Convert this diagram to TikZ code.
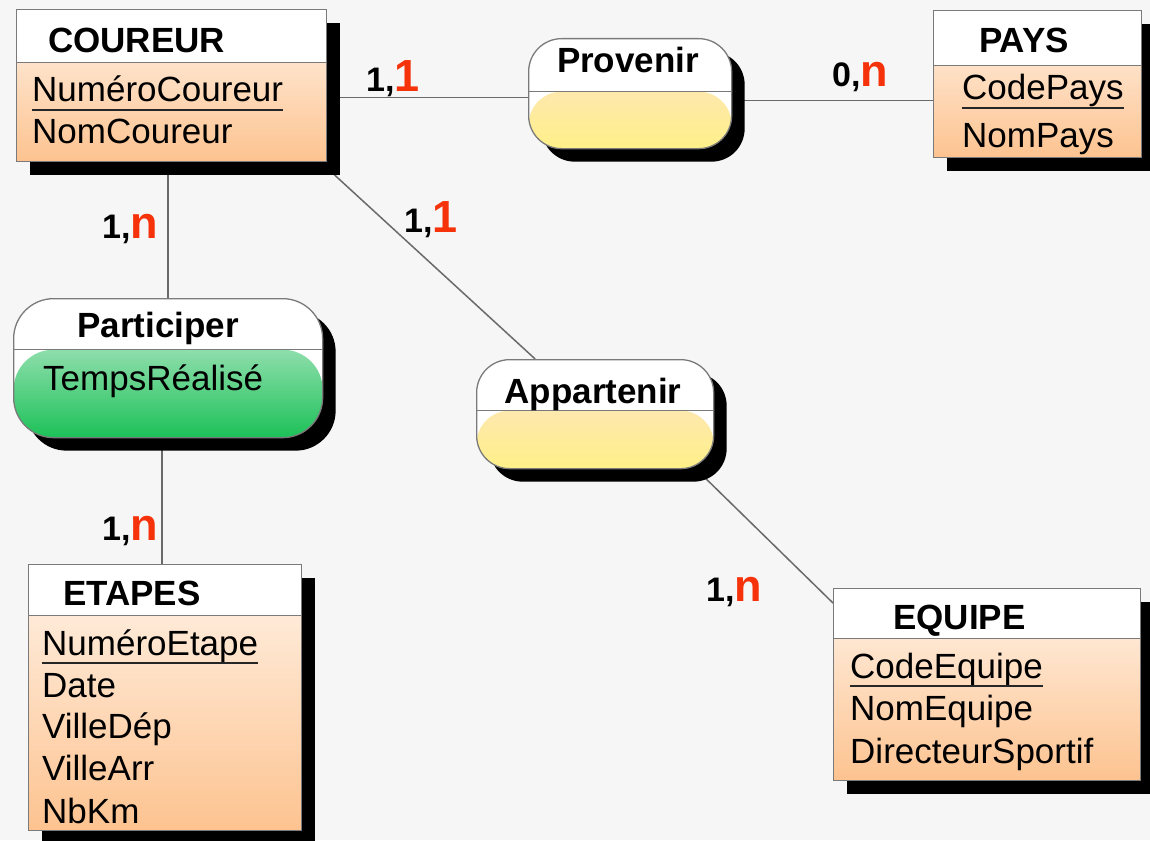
\documentclass[tikz,border=0pt]{standalone}
\usepackage{fontspec}
\setmainfont{Liberation Sans}
\usetikzlibrary{shadows,calc}

\definecolor{paper}{HTML}{F6F6F6}
\definecolor{edge}{HTML}{7A7A7A}
\definecolor{wire}{HTML}{6A6A6A}
\definecolor{peachA}{HTML}{FFF3E8}
\definecolor{peachB}{HTML}{F6D0A8}
\definecolor{peachC}{HTML}{FDC390}
\definecolor{yelA}{HTML}{FDE2CE}
\definecolor{yelB}{HTML}{FFF9B0}
\definecolor{yelC}{HTML}{FFF088}
\definecolor{grnA}{HTML}{D0EFDB}
\definecolor{grnB}{HTML}{86DBA2}
\definecolor{grnC}{HTML}{1CC158}
\definecolor{card}{HTML}{F5320A}

\pgfdeclarelayer{back}
\pgfsetlayers{back,main}

\tikzset{
  % lower compartment of a box: shaded fill plus the dividing rule
  body/.style n args={4}{path picture={
      \shade[top color=#2, middle color=#3, bottom color=#4]
        ($(path picture bounding box.north west)+(0,#1)$) rectangle
        (path picture bounding box.south east);
      \draw[edge, line width=1.4pt]
        ($(path picture bounding box.north west)+(0,#1)$) --
        ($(path picture bounding box.north east)+(0,#1)$);}},
  boxbase/.style={draw=edge, line width=1.3pt, fill=white, inner sep=0pt,
    anchor=north west,
    drop shadow={shadow xshift=13pt, shadow yshift=-13pt, opacity=1, fill=black}},
  entity/.style={boxbase, rectangle, body={#1}{peachA}{peachB}{peachC}},
  assoc/.style={boxbase, rectangle, rounded corners=33pt, body={#1}{yelA}{yelB}{yelC}},
  assocgreen/.style={boxbase, rectangle, rounded corners=40pt, body={#1}{grnA}{grnB}{grnC}},
  txt/.style={inner sep=0pt, anchor=base west, text=black,
    font=\fontsize{35}{40}\selectfont},
  title/.style={inner sep=0pt, text=black, font=\bfseries\fontsize{35}{40}\selectfont},
  keyline/.style={draw=black!85, line width=2pt},
  link/.style={draw=wire, line width=1.5pt},
  cardn/.style={inner sep=0pt, anchor=base west},
}
\newcommand{\cardtext}[2]{{\bfseries\fontsize{34}{36}\selectfont #1,}{\color{card}\bfseries\fontsize{45}{48}\selectfont #2}}

\begin{document}
\begin{tikzpicture}[x=1pt, y=-1pt]
\begin{pgfonlayer}{back}
  \fill[paper] (0,0) rectangle (1150,840);
\end{pgfonlayer}
\useasboundingbox (0,0) rectangle (1150,840);

% entities
\node[entity=53, minimum width=310, minimum height=152] (coureur) at (16,9) {};
\node[entity=55, minimum width=208, minimum height=147] (pays) at (933,10) {};
\node[entity=51, minimum width=273, minimum height=266] (etapes) at (28,564) {};
\node[entity=50, minimum width=307, minimum height=192] (equipe) at (833,588) {};

% associations
\node[assoc=53, minimum width=203, minimum height=110] (provenir) at (528,38) {};
\node[assoc=51, minimum width=237, minimum height=109] (appartenir) at (476,359) {};
\node[assocgreen=51, minimum width=309, minimum height=139] (participer) at (13,298) {};

% titles
\node[title, anchor=base west] (tCoureur) at (48,53) {COUREUR};
\node[title, anchor=base west] (tPays) at (979,53) {PAYS};
\node[title, anchor=base west] (tEtapes) at (63,605) {ETAPES};
\node[title, anchor=base west] (tEquipe) at (893,629) {EQUIPE};
\node[title, anchor=base] (tProvenir) at (628,73) {Provenir};
\node[title, anchor=base] (tAppartenir) at (593,403) {Appartenir};
\node[title, anchor=base] (tParticiper) at (158,337) {Participer};

% attributes
\node[txt] (kCoureur) at (32,102) {NuméroCoureur};
\node[txt] (aNomCoureur) at (32,143) {NomCoureur};
\node[txt] (kPays) at (962,100) {CodePays};
\node[txt] (aNomPays) at (962,147) {NomPays};
\node[txt] (kEtape) at (42,655) {NuméroEtape};
\node[txt] (aDate) at (42,697) {Date};
\node[txt] (aVilleDep) at (42,738) {VilleDép};
\node[txt] (aVilleArr) at (42,780) {VilleArr};
\node[txt] (aNbKm) at (42,823) {NbKm};
\node[txt] (kEquipe) at (850,678) {CodeEquipe};
\node[txt] (aNomEquipe) at (850,720) {NomEquipe};
\node[txt] (aDirecteur) at (850,763) {DirecteurSportif};
\node[txt] (aTemps) at (43,390) {TempsRéalisé};

% identifiers underlined
\foreach \k in {kCoureur,kPays,kEtape,kEquipe}
  \draw[keyline] ([yshift=-8pt]\k.base west) -- ([yshift=-8pt]\k.base east);

% cardinalities
\node[cardn] (c1) at (366,92) {\cardtext{1}{1}};
\node[cardn] (c2) at (832,87) {\cardtext{0}{n}};
\node[cardn] (c3) at (102,238) {\cardtext{1}{n}};
\node[cardn] (c4) at (404,232) {\cardtext{1}{1}};
\node[cardn] (c5) at (102,540) {\cardtext{1}{n}};
\node[cardn] (c6) at (706,601) {\cardtext{1}{n}};

% connectors
\begin{pgfonlayer}{back}
  \draw[link] ([yshift=-4pt]provenir.west) -- ([yshift=-4pt]provenir.west -| coureur.east);
  \draw[link] ([yshift=-7pt]provenir.east) -- ([yshift=-7pt]provenir.east -| pays.west);
  \draw[link] (participer.north) -- (participer.north |- coureur.south);
  \draw[link] ([xshift=-3pt]etapes.north) -- ([xshift=-3pt]etapes.north |- participer.south);
  \draw[link] ([yshift=-6pt]coureur.south east) -- ([xshift=-60pt]appartenir.north);
  \draw[link] ([xshift=-18pt]appartenir.south east) -- ([yshift=-15pt]equipe.north west);
\end{pgfonlayer}
\end{tikzpicture}
\end{document}
